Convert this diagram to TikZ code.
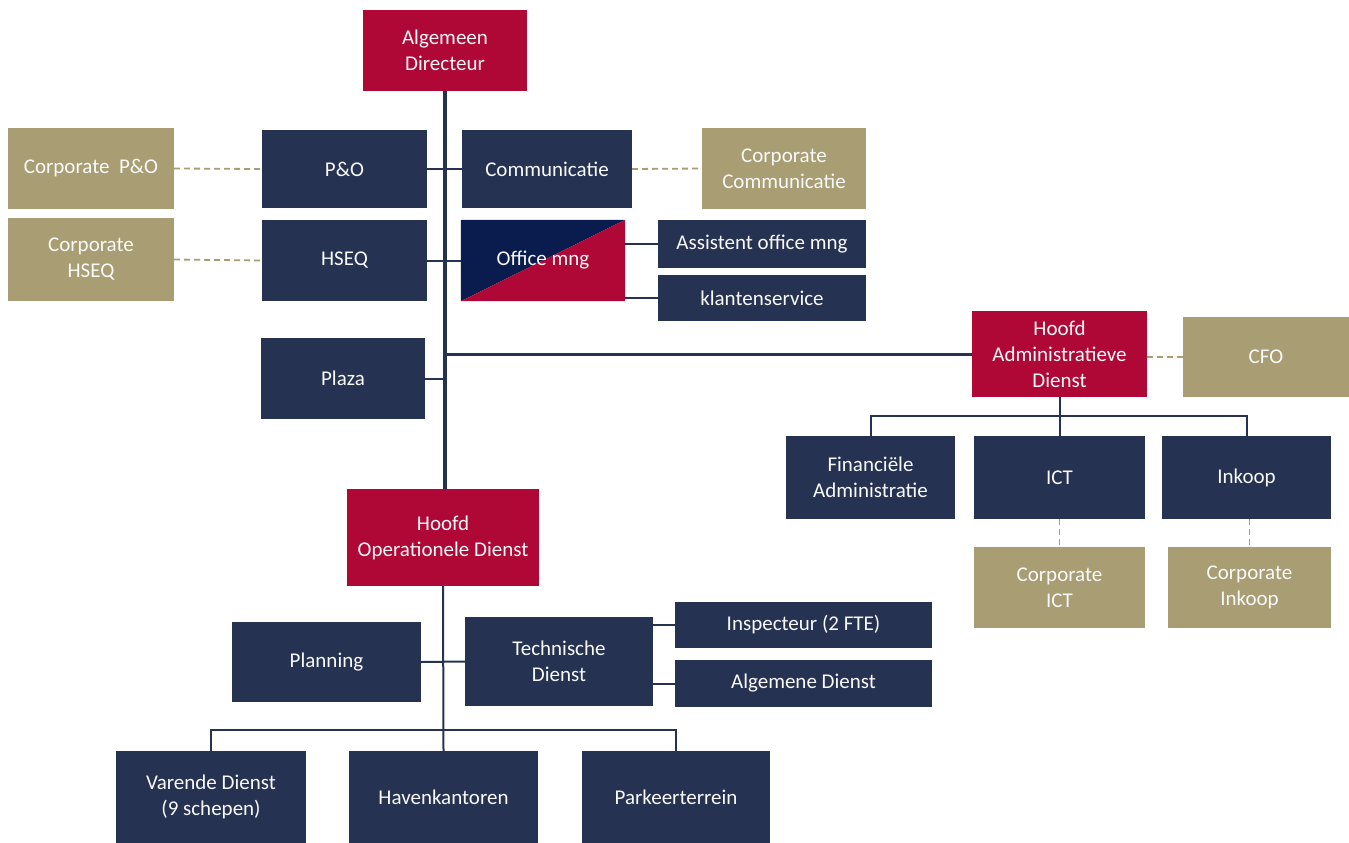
\documentclass[tikz,border=0pt]{standalone}
\usepackage{fontspec}
\setmainfont{Carlito}
\definecolor{cred}{RGB}{175,8,55}
\definecolor{cnavy}{RGB}{38,50,82}
\definecolor{ctan}{RGB}{168,157,115}
\definecolor{cdnavy}{RGB}{10,28,78}
\begin{document}
\begin{tikzpicture}[x=1pt,y=-1pt,
  box/.style={inner sep=2pt,align=center,text=white!95!gray,font=\fontsize{21}{26}\selectfont},
  nbox/.style={box,fill=cnavy},
  rbox/.style={box,fill=cred},
  tbox/.style={box,fill=ctan},
  sz/.style 2 args={minimum width=#1,minimum height=#2},
  br/.style={draw=cnavy,line width=2pt},
  trunk/.style={draw=cnavy,line width=3.5pt},
  dsh/.style={draw=ctan,line width=1.8pt,dash pattern=on 6pt off 4pt}]
\useasboundingbox (0,0) rectangle (1349,843);
% nodes
\node[rbox,sz={164}{81}] (ad) at (445,50.5) {Algemeen\\Directeur};
\node[tbox,sz={166}{81}] (cpo) at (91,168.5) {Corporate\ \ P\&O};
\node[nbox,sz={165}{78}] (po) at (344.5,169) {P\&O};
\node[nbox,sz={170}{78}] (com) at (547,169) {Communicatie};
\node[tbox,sz={164}{81}] (ccom) at (784,168.5) {Corporate\\Communicatie};
\node[tbox,sz={166}{83}] (chseq) at (91,259.5) {Corporate\\HSEQ};
\node[nbox,sz={165}{81}] (hseq) at (344.5,260.5) {HSEQ};
\node[box,sz={164}{81}] (om) at (543,260.5) {};
\fill[cdnavy] (om.north west) -- (om.north east) -- (om.south west) -- cycle;
\fill[cred] (om.north east) -- (om.south east) -- (om.south west) -- cycle;
\node[box] at (om.center) {Office mng};
\node[nbox,sz={208}{48}] (aom) at (762,244) {Assistent office mng};
\node[nbox,sz={208}{46}] (ks) at (762,298) {klantenservice};
\node[nbox,sz={164}{81}] (plaza) at (343,378.5) {Plaza};
\node[rbox,sz={175}{86}] (had) at (1059.5,354) {Hoofd\\Administratieve\\Dienst};
\node[tbox,sz={166}{80}] (cfo) at (1266,357) {CFO};
\node[nbox,sz={169}{83}] (fa) at (870.5,477.5) {Financiële\\Administratie};
\node[nbox,sz={171}{83}] (ict) at (1059.5,477.5) {ICT};
\node[nbox,sz={169}{83}] (ink) at (1246.5,477.5) {Inkoop};
\node[tbox,sz={171}{81}] (cict) at (1059.5,587.5) {Corporate\\ICT};
\node[tbox,sz={163}{81}] (cink) at (1249.5,587.5) {Corporate\\Inkoop};
\node[rbox,sz={192}{97}] (hod) at (443,537.5) {Hoofd\\Operationele Dienst};
\node[nbox,sz={189}{80}] (plan) at (326.5,662) {Planning};
\node[nbox,sz={188}{89}] (td) at (559,661.5) {Technische\\Dienst};
\node[nbox,sz={257}{46}] (insp) at (803.5,625) {Inspecteur (2 FTE)};
\node[nbox,sz={257}{47}] (alg) at (803.5,683.5) {Algemene Dienst};
\node[nbox,sz={190}{92}] (vd) at (211,797) {Varende Dienst\\(9 schepen)};
\node[nbox,sz={189}{92}] (hk) at (443.5,797) {Havenkantoren};
\node[nbox,sz={188}{92}] (pk) at (676,797) {Parkeerterrein};
\coordinate (hb) at (1059.5,416);
\coordinate (ob) at (443.5,730);
% trunk and branches
\draw[trunk] (ad.south) -- (ad.south |- hod.north);
\draw[br] (po.east) -- (po.east -| ad.south);
\draw[br] (com.west) -- (com.west -| ad.south);
\draw[br] (hseq.east) -- (hseq.east -| ad.south);
\draw[br] (om.west) -- (om.west -| ad.south);
\draw[br] (plaza.east) -- (plaza.east -| ad.south);
\draw[trunk,line width=3pt] (ad.south |- had.west) -- (had.west);
\draw[br] (om.east |- aom) -- (aom.west);
\draw[br] (om.east |- ks) -- (ks.west);
\draw[br] (had.south) -- (hb);
\draw[br] (fa.north) |- (hb) -| (ink.north);
\draw[br] (hb) -- (ict.north);
\draw[br] (hod.south) -- (hk.north);
\draw[br] (vd.north) |- (ob) -| (pk.north);
\draw[br] (plan.east) -- (td.west);
\draw[br] (td.east |- insp) -- (insp.west);
\draw[br] (td.east |- alg) -- (alg.west);
% dashed
\draw[dsh] (cpo.east) -- (po.west);
\draw[dsh] (com.east) -- (ccom.west);
\draw[dsh] (chseq.east) -- (hseq.west);
\draw[dsh] (had.east |- cfo) -- (cfo.west);
\draw[dsh] (ict.south) -- (cict.north);
\draw[dsh] (cink.north |- ink.south) -- (cink.north);
\end{tikzpicture}
\end{document}
